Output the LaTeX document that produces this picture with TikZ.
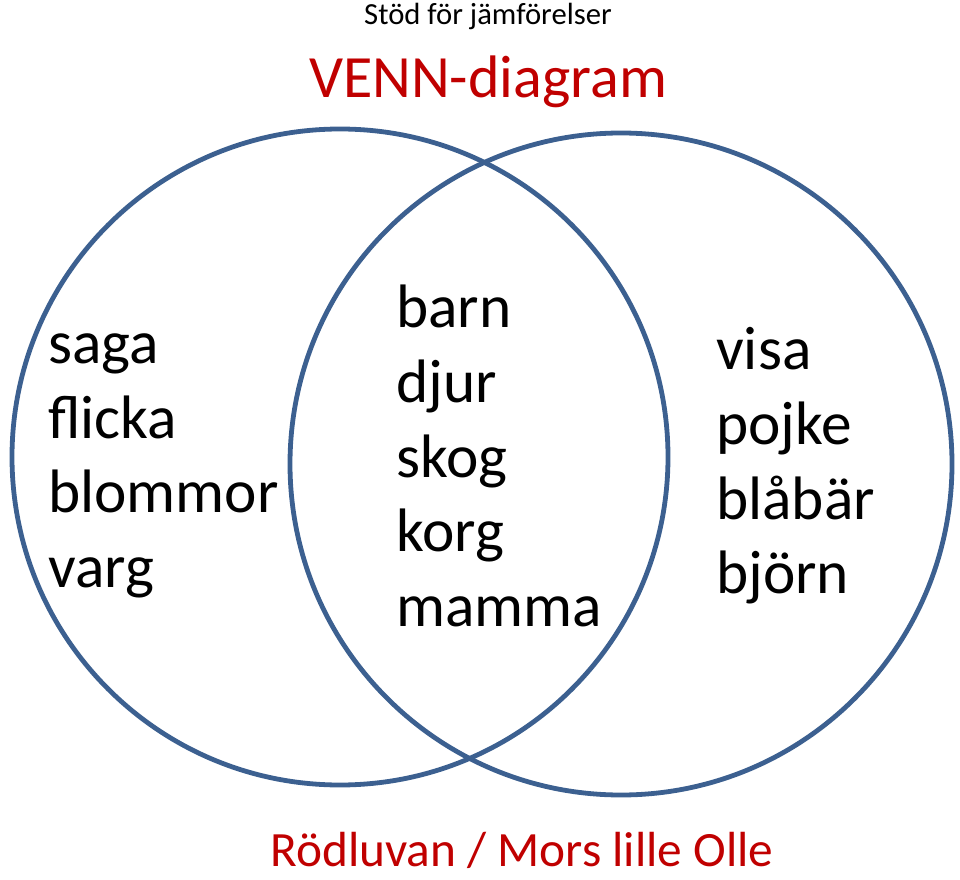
\documentclass[tikz,border=0pt]{standalone}
\usepackage{fontspec}
\setmainfont{Carlito}
\definecolor{vblue}{HTML}{3C6090}
\definecolor{vred}{HTML}{C00000}
\begin{document}
\begin{tikzpicture}[x=0.75pt,y=-0.75pt,
  ring/.style={draw=vblue,line width=3.6pt,circle},
  words/.style={align=left,anchor=west,inner sep=0pt,font=\fontsize{46}{56}\selectfont}]
\useasboundingbox (0,0) rectangle (960,880);
\draw[ring] (340,457) circle (328);
\draw[ring] (621,464) circle (331);
\node[font=\fontsize{23}{28}\selectfont] (sub) at (488,16) {Stöd för jämförelser};
\node[font=\fontsize{45}{54}\selectfont,text=vred] (title) at (488,82) {VENN-diagram};
\node[words] (left) at (48,466) {saga\\flicka\\blommor\\varg};
\node[words] (mid) at (396,456) {barn\\djur\\skog\\korg\\mamma};
\node[words] (right) at (716,466) {visa\\pojke\\blåbär\\björn};
\node[font=\fontsize{37}{44}\selectfont,text=vred] (foot) at (522,850) {Rödluvan / Mors lille Olle};
\end{tikzpicture}
\end{document}
